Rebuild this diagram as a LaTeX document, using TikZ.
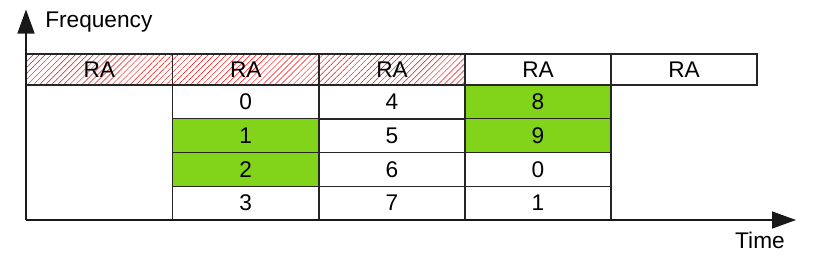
\documentclass[tikz,border=0pt]{standalone}
\usepackage{fontspec}
\setmainfont{Liberation Sans}
\usetikzlibrary{arrows.meta,patterns.meta}
\definecolor{slotgreen}{HTML}{81D41A}

\begin{document}
\begin{tikzpicture}[
  x=0.75pt, y=-0.75pt,
  every node/.style={font=\fontsize{17}{20}\selectfont},
  cell/.style={rectangle, draw=black!85, line width=1.1pt, inner sep=0pt, minimum width=109.65pt, minimum height=25.3pt},
  racell/.style={cell, minimum height=23.25pt},
  hatched/.style={pattern={Lines[angle=45, distance=3.2pt, line width=0.35pt]}, pattern color=red},
  used/.style={fill=slotgreen},
  axis/.style={-{Triangle[length=18pt, width=12.75pt]}, line width=1.1pt, draw=black!90}
]
\useasboundingbox (0,0) rectangle (816,269);

% Axes
\coordinate (origin) at (26,220);
\coordinate (ftop) at (26,9.5);
\coordinate (tend) at (796,220);

% Random access slots
\node[racell, hatched] (ra1) at (99.25,69.5) {RA};
\node[racell, hatched] (ra2) at (245.75,69.5) {RA};
\node[racell, hatched] (ra3) at (392,69.5) {RA};
\node[racell, fill=white] (ra4) at (538,69.5) {RA};
\node[racell, fill=white] (ra5) at (684,69.5) {RA};

% Second column
\node[cell] (c20) at (245.75,101.9) {0};
\node[cell, used] (c21) at (245.75,135.6) {1};
\node[cell, used] (c22) at (245.75,169.4) {2};
\node[cell] (c23) at (245.75,203.1) {3};

% Third column
\node[cell] (c34) at (392,101.9) {4};
\node[cell] (c35) at (392,135.6) {5};
\node[cell] (c36) at (392,169.4) {6};
\node[cell] (c37) at (392,203.1) {7};

% Fourth column
\node[cell, used] (c48) at (538,101.9) {8};
\node[cell, used] (c49) at (538,135.6) {9};
\node[cell] (c40) at (538,169.4) {0};
\node[cell] (c41) at (538,203.1) {1};

\draw[axis] (origin) -- (ftop);
\draw[axis] (origin) -- (tend);

% Axis labels
\node[anchor=base west, inner sep=0pt] (freq) at (45,27.3) {Frequency};
\node[anchor=base east, inner sep=0pt] (time) at (785,248.3) {Time};
\end{tikzpicture}
\end{document}
